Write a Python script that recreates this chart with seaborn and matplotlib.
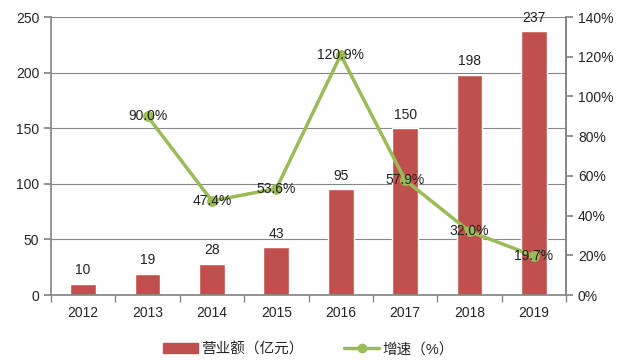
import matplotlib
matplotlib.use("Agg")
import matplotlib.pyplot as plt
import numpy as np
import pandas as pd
import seaborn as sns
from matplotlib.lines import Line2D
from matplotlib.patches import Patch

years = ["2012", "2013", "2014", "2015", "2016", "2017", "2018", "2019"]
revenue = [10, 19, 28, 43, 95, 150, 198, 237]
growth = [np.nan, 90.0, 47.4, 53.6, 120.9, 57.9, 32.0, 19.7]

BAR = "#C0504D"
LINE = "#9BBB59"
GRAY = "#868686"

sns.set_theme(style="white")
plt.rcParams["font.family"] = ["Liberation Sans", "Noto Sans CJK SC", "DejaVu Sans"]

df = pd.DataFrame({"year": years, "revenue": revenue, "growth": growth})
df["pos"] = np.arange(len(years))

fig = plt.figure(figsize=(6.29, 3.62), dpi=100)
ax = fig.add_axes([0.081, 0.185, 0.819, 0.768])

sns.barplot(data=df, x="year", y="revenue", color=BAR, width=0.4,
            saturation=1, ax=ax, zorder=2)
ax.set_ylim(0, 250)
ax.set_yticks(range(0, 251, 50))
ax.set_xlim(-0.5, len(years) - 0.5)
ax.yaxis.grid(True, color=GRAY, lw=0.8, zorder=0)
ax.set_axisbelow(True)
ax.set_xlabel("")
ax.set_ylabel("")
for v, p in zip(df["revenue"], df["pos"]):
    ax.text(p, v + 6, f"{v}", ha="center", va="bottom", fontsize=10, color="#222222")

# ticks between categories
ax.set_xticks(np.arange(-0.5, len(years)), minor=True)
ax.tick_params(axis="x", which="major", length=0, labelsize=10, pad=8)
ax.tick_params(axis="x", which="minor", length=5, color=GRAY, direction="out", bottom=True)
ax.tick_params(axis="y", length=5, color=GRAY, direction="out", left=True, labelsize=10)

for s in ["left", "bottom", "right"]:
    ax.spines[s].set_color(GRAY)
ax.spines["top"].set_visible(False)

ax2 = ax.twinx()
sns.lineplot(data=df.dropna(), x="pos", y="growth", color=LINE, lw=2.5,
             marker="o", markersize=7, markeredgecolor=LINE, ax=ax2, zorder=3)
ax2.set_ylim(0, 140)
ax2.set_yticks(range(0, 141, 20))
ax2.set_yticklabels([f"{t}%" for t in range(0, 141, 20)])
ax2.set_xlim(-0.5, len(years) - 0.5)
ax2.set_xlabel("")
ax2.set_ylabel("")
ax2.tick_params(axis="y", length=5, color=GRAY, direction="out", right=True, labelsize=10)
for s in ax2.spines.values():
    s.set_visible(False)
ax2.spines["right"].set_visible(True)
ax2.spines["right"].set_color(GRAY)
for g, p in zip(df["growth"], df["pos"]):
    if not np.isnan(g):
        ax2.text(p, g, f"{g:.1f}%", ha="center", va="center", fontsize=10,
                 color="#222222", zorder=4)

handles = [
    Patch(color=BAR, label="营业额（亿元）"),
    Line2D([0], [0], color=LINE, lw=2.5, marker="o", markersize=6, label="增速（%）"),
]
fig.legend(handles=handles, loc="lower center", bbox_to_anchor=(0.49, -0.02),
           ncol=2, frameon=False, fontsize=10.5, handlelength=2.4,
           columnspacing=2.8, handletextpad=0.2)

fig.savefig("out.png", dpi=100)
